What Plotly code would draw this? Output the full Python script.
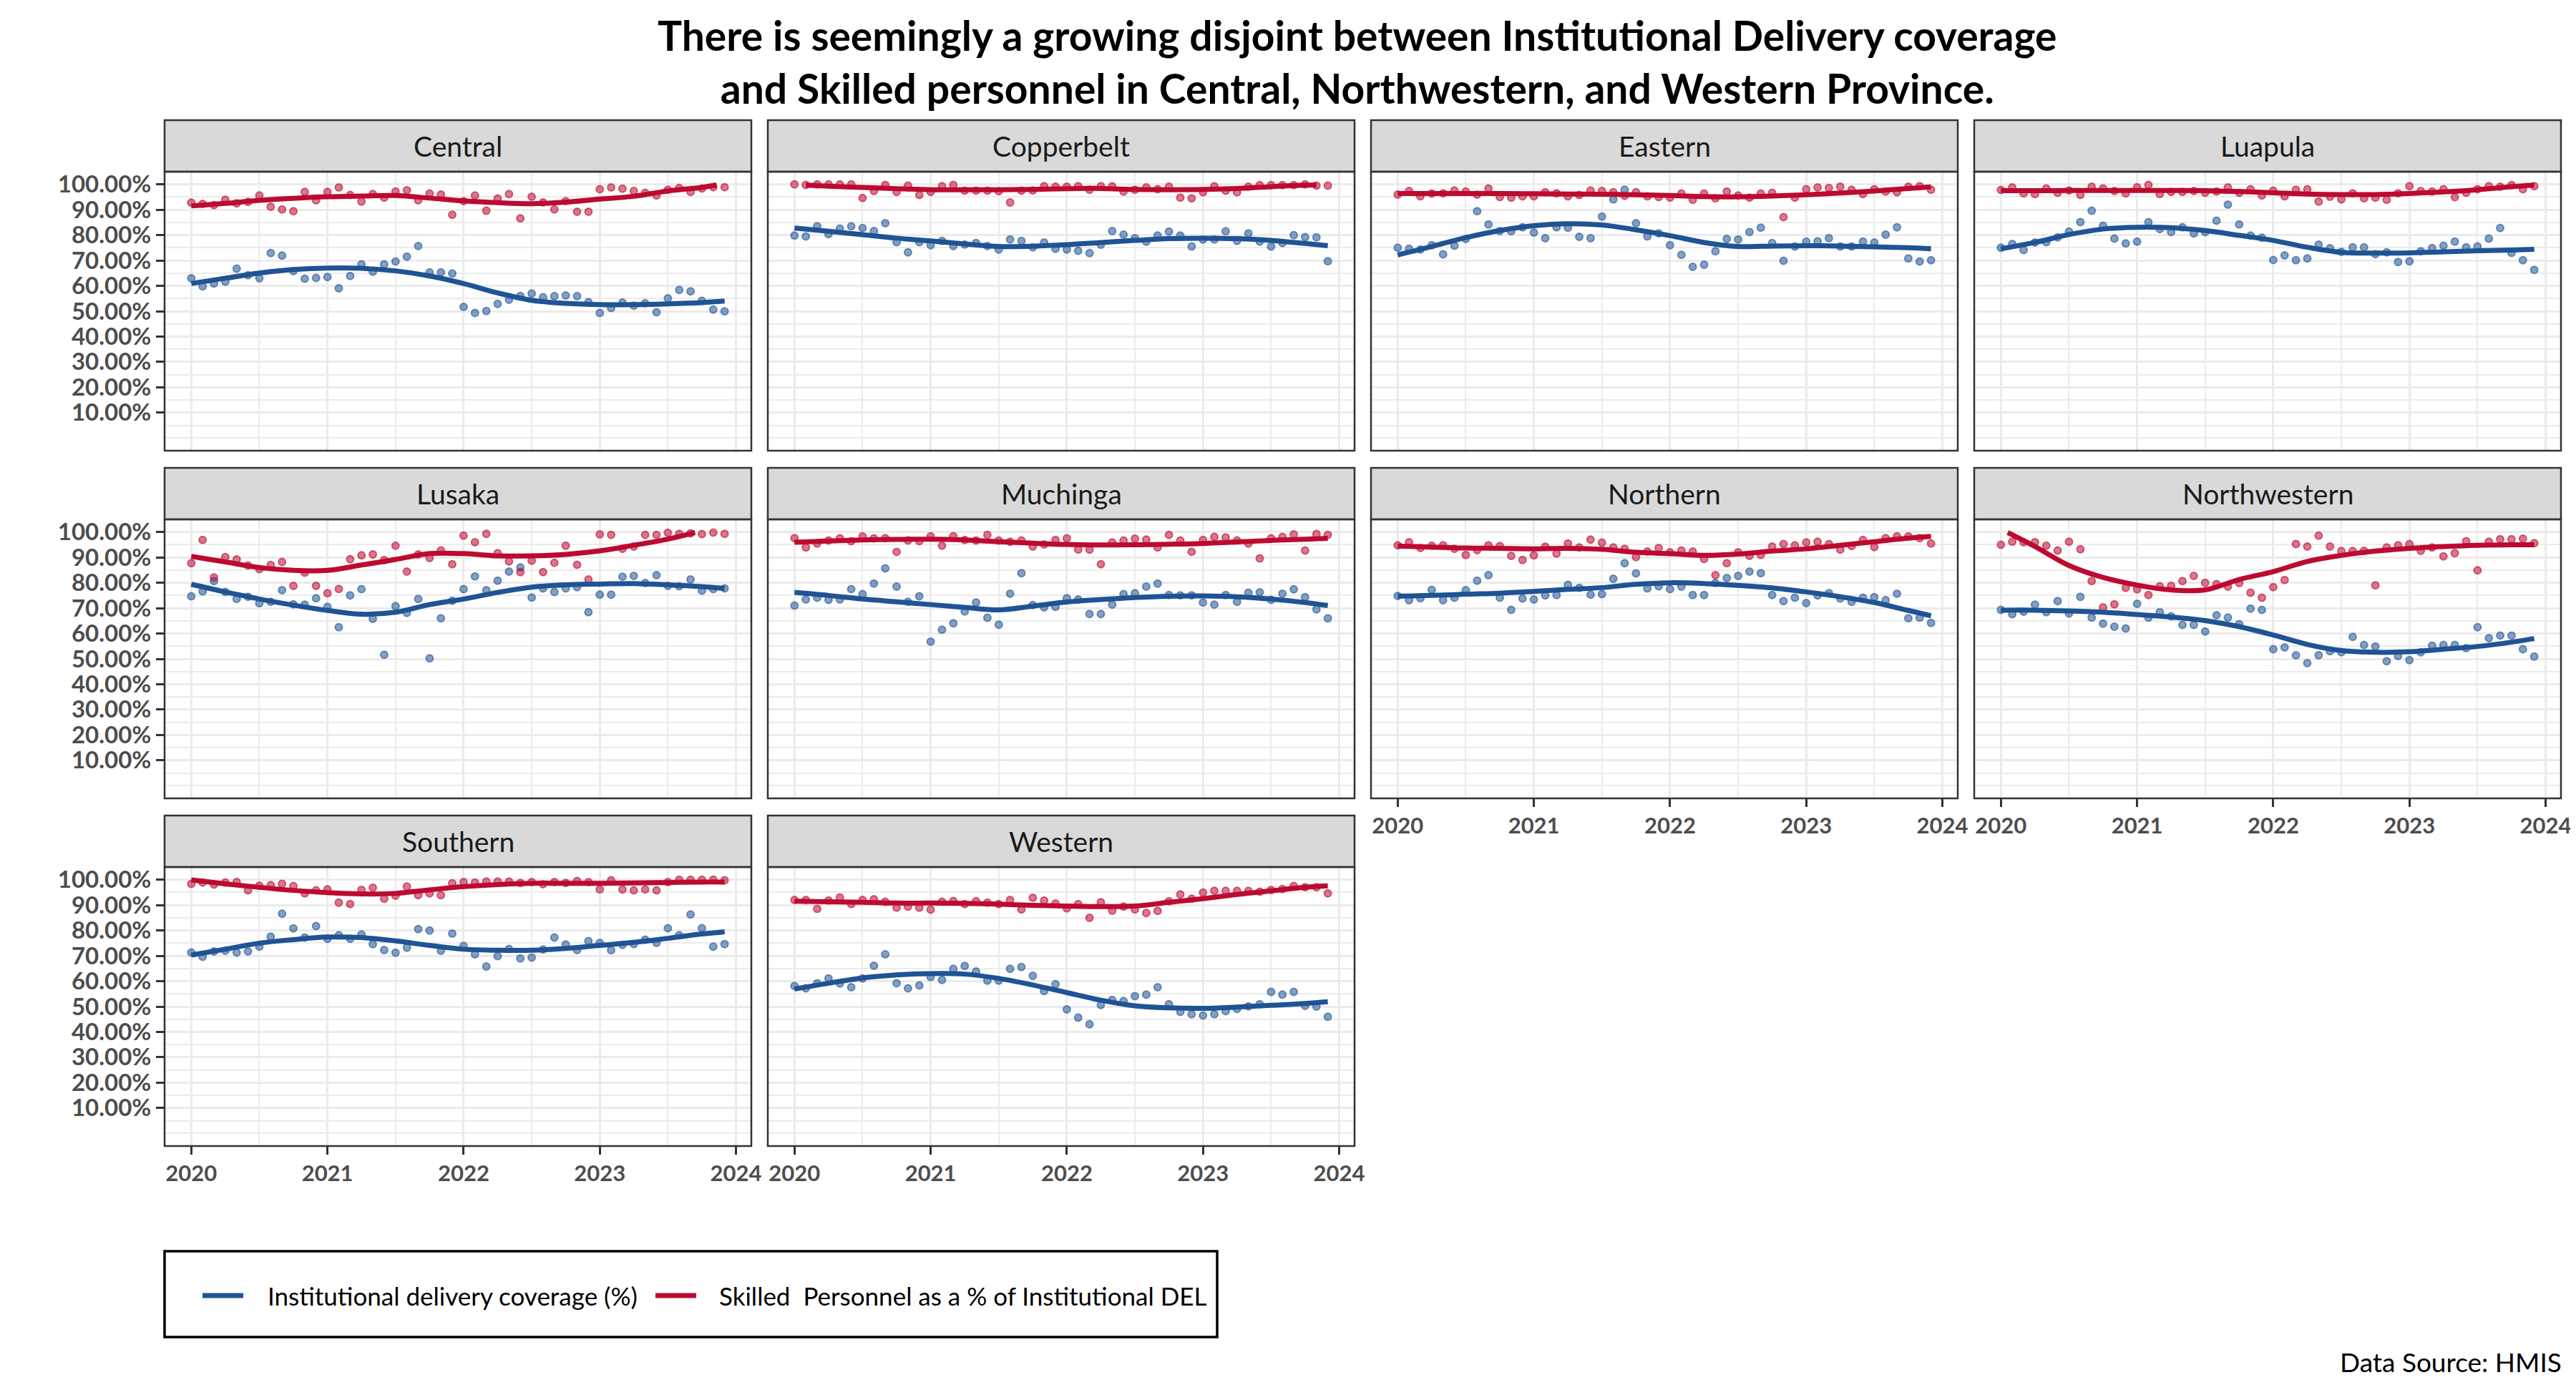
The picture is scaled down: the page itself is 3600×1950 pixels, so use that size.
import numpy as np
import pandas as pd
import plotly.graph_objects as go

# page body has an 8px margin, so the figure is drawn slightly smaller and
# every pixel position below is shifted by OFF
OFF = 8
W, H = 3600 - 2 * OFF, 1950 - 2 * OFF
FONT = "Lato"
BLUE = "#1F5394"
RED = "#BC0A31"

PROVINCES = ["Central", "Copperbelt", "Eastern", "Luapula", "Lusaka",
             "Muchinga", "Northern", "Northwestern", "Southern", "Western"]

MONTHS = pd.date_range("2020-01-01", "2023-12-01", freq="MS")

# Institutional delivery coverage (%), monthly Jan 2020 - Dec 2023
IDC = {
    "Central": [63.0, 59.8, 60.9, 61.6, 66.8, 64.2, 63.0, 72.9, 71.9, 65.8, 62.8, 63.1, 63.5, 59.0, 63.9, 68.5,
                65.6, 68.5, 69.6, 71.5, 75.7, 65.3, 65.3, 64.9, 51.7, 49.3, 50.1, 52.9, 54.5, 56.0, 57.0, 55.5,
                55.9, 56.2, 55.9, 53.6, 49.3, 51.3, 53.4, 52.2, 53.1, 49.6, 55.1, 58.4, 57.8, 54.1, 50.6, 49.9],
    "Copperbelt": [79.8, 79.5, 83.5, 80.4, 82.6, 83.5, 82.8, 81.6, 84.7, 77.2, 73.2, 77.2, 76.0, 77.7, 75.7, 76.3,
                   76.9, 75.7, 74.3, 78.3, 77.7, 75.2, 77.1, 74.6, 74.3, 73.8, 72.9, 76.2, 81.6, 80.2, 78.8, 77.4,
                   79.8, 81.4, 79.8, 75.5, 78.2, 78.3, 81.5, 77.7, 80.7, 77.4, 75.5, 76.9, 80.0, 79.2, 79.1, 69.7],
    "Eastern": [75.0, 74.6, 74.3, 76.0, 72.4, 75.8, 78.5, 89.4, 84.2, 81.6, 81.5, 83.1, 81.0, 78.8, 83.1, 82.9,
                79.3, 78.8, 87.3, 94.1, 97.9, 84.7, 79.5, 80.7, 76.0, 72.2, 67.5, 68.3, 73.6, 78.5, 78.3, 81.2,
                82.9, 76.9, 69.9, 75.5, 77.4, 77.6, 78.8, 75.5, 75.5, 77.4, 77.1, 80.2, 83.1, 70.8, 69.6, 70.1],
    "Luapula": [75.0, 76.5, 74.1, 77.1, 77.2, 79.1, 81.4, 85.1, 89.6, 83.7, 78.6, 76.7, 77.4, 85.1, 82.4, 81.2,
                83.1, 80.7, 81.2, 85.7, 92.0, 84.2, 79.8, 79.0, 70.2, 72.0, 70.1, 70.8, 76.2, 74.8, 73.4, 75.2,
                75.2, 72.5, 73.2, 69.4, 69.7, 73.6, 74.9, 75.8, 77.4, 75.2, 75.5, 78.6, 82.8, 73.0, 70.1, 66.3],
    "Lusaka": [74.7, 76.6, 80.7, 76.4, 73.6, 74.5, 71.9, 72.5, 77.1, 71.5, 71.4, 73.9, 70.5, 62.5, 75.0, 77.5,
               65.8, 51.6, 70.8, 68.1, 73.6, 50.2, 66.0, 72.9, 77.5, 82.5, 77.1, 80.8, 84.4, 86.0, 74.2, 77.8,
               76.4, 77.8, 78.3, 68.4, 75.3, 75.3, 82.4, 82.7, 79.9, 83.0, 78.8, 78.6, 81.3, 76.9, 77.5, 77.8],
    "Muchinga": [71.0, 73.4, 74.1, 73.3, 73.4, 77.5, 75.5, 79.7, 85.7, 78.5, 72.5, 74.7, 56.8, 61.5, 64.0, 68.7,
                 72.2, 66.2, 63.5, 75.7, 83.8, 71.2, 70.3, 70.5, 73.9, 73.4, 67.7, 67.7, 71.4, 75.5, 75.9, 78.5,
                 79.7, 75.2, 75.0, 75.0, 72.2, 71.4, 75.2, 72.5, 76.1, 76.2, 73.3, 75.7, 77.4, 74.3, 69.5, 66.0],
    "Northern": [74.8, 73.1, 73.9, 77.2, 73.1, 74.1, 77.1, 80.8, 83.0, 74.1, 69.3, 73.8, 73.4, 75.0, 75.2, 79.2,
                 78.0, 75.3, 75.5, 81.6, 87.7, 83.7, 77.8, 78.6, 77.5, 78.5, 75.2, 75.2, 79.9, 81.9, 82.7, 84.4,
                 83.8, 75.2, 72.8, 74.1, 72.0, 75.0, 75.9, 73.8, 72.5, 74.1, 74.3, 73.1, 75.7, 66.0, 66.3, 64.2],
    "Northwestern": [69.3, 67.6, 68.6, 71.4, 68.4, 72.8, 67.9, 74.5, 66.3, 63.9, 62.7, 62.0, 71.7, 66.2, 68.4, 66.8,
                     63.4, 63.4, 60.8, 67.2, 66.3, 63.7, 69.8, 69.3, 53.8, 54.5, 51.4, 48.3, 51.4, 53.0, 52.6, 58.7,
                     55.5, 54.9, 49.1, 51.1, 49.5, 52.6, 55.2, 55.5, 55.5, 54.2, 62.5, 58.2, 59.2, 59.2, 53.8, 50.9],
    "Southern": [71.3, 69.6, 71.7, 72.0, 71.3, 71.7, 73.6, 77.6, 86.6, 80.8, 77.2, 81.7, 76.7, 78.1, 76.7, 78.4,
                 74.6, 72.3, 71.2, 73.2, 80.5, 80.0, 72.0, 78.8, 73.9, 70.6, 65.8, 69.9, 72.7, 69.0, 69.3, 72.5,
                 77.2, 74.5, 72.3, 75.8, 75.1, 72.2, 74.3, 74.6, 76.4, 75.1, 80.9, 78.1, 86.3, 80.9, 73.6, 74.6],
    "Western": [58.1, 57.2, 59.2, 61.1, 59.1, 57.6, 61.1, 66.1, 70.6, 59.2, 57.2, 58.3, 61.6, 60.5, 64.9, 66.0,
                63.8, 60.2, 60.2, 64.9, 65.6, 62.1, 56.1, 58.8, 48.9, 45.6, 43.0, 50.6, 52.6, 52.2, 54.1, 54.7,
                57.6, 50.9, 47.9, 47.0, 46.5, 47.0, 48.2, 49.1, 50.1, 50.9, 55.8, 54.7, 55.8, 50.3, 50.0, 46.0],
}

# Skilled personnel as a % of institutional deliveries, monthly
SKILLED = {
    "Central": [92.8, 92.3, 91.8, 93.9, 92.5, 93.1, 95.6, 91.2, 90.1, 89.4, 97.0, 93.7, 97.0, 98.8, 95.8, 93.2,
                96.2, 94.8, 97.2, 97.7, 93.7, 96.4, 96.0, 88.0, 93.4, 95.6, 89.6, 94.4, 96.2, 86.6, 95.1, 92.9,
                90.1, 93.4, 89.2, 89.2, 98.1, 98.8, 98.3, 97.4, 96.7, 95.6, 97.9, 98.6, 97.0, 98.4, 98.9, 98.9],
    "Copperbelt": [100.0, 99.8, 100.0, 100.0, 100.0, 100.0, 94.6, 97.4, 99.8, 97.0, 99.5, 95.8, 97.0, 99.3, 99.8, 97.5,
                   97.5, 97.5, 97.3, 92.9, 97.5, 97.6, 99.3, 99.1, 99.1, 99.3, 97.9, 99.3, 99.2, 97.2, 97.9, 98.8,
                   98.1, 99.1, 94.8, 94.5, 96.9, 99.2, 97.5, 96.9, 99.1, 99.7, 99.7, 99.7, 99.7, 100.0, 99.5, 99.5],
    "Eastern": [96.0, 97.4, 95.3, 96.4, 96.5, 97.6, 97.2, 96.0, 98.4, 95.0, 94.8, 95.3, 95.3, 96.9, 96.5, 95.3,
                95.8, 97.6, 97.4, 96.9, 95.5, 96.9, 95.3, 95.0, 94.8, 96.4, 93.9, 96.4, 94.5, 97.2, 95.6, 94.8,
                96.4, 96.7, 87.1, 94.8, 98.1, 98.8, 98.6, 99.1, 97.9, 96.2, 98.1, 97.2, 96.9, 99.1, 99.3, 97.9],
    "Luapula": [97.8, 98.8, 96.5, 96.2, 98.4, 96.7, 97.6, 95.8, 99.1, 98.4, 97.4, 96.5, 98.9, 99.8, 96.2, 97.0,
                97.0, 97.4, 96.7, 97.2, 98.8, 96.7, 98.1, 95.6, 97.5, 95.3, 97.9, 98.1, 93.2, 95.1, 94.1, 96.5,
                94.5, 94.8, 93.9, 96.5, 99.3, 97.4, 97.2, 98.1, 95.0, 96.7, 98.1, 99.3, 99.1, 99.7, 98.1, 99.3],
    "Lusaka": [87.7, 96.9, 82.1, 90.1, 89.2, 86.8, 85.4, 87.0, 88.2, 78.8, 84.0, 78.8, 75.9, 77.6, 89.3, 90.8,
               91.2, 88.9, 94.6, 84.4, 91.2, 89.8, 92.7, 87.3, 98.6, 96.0, 99.3, 91.7, 88.4, 84.2, 88.7, 84.2,
               87.9, 94.6, 87.1, 81.3, 99.1, 98.9, 93.4, 94.3, 98.9, 98.9, 99.7, 99.3, 99.5, 99.2, 99.8, 99.3],
    "Muchinga": [97.6, 93.9, 95.5, 96.7, 97.5, 96.4, 98.3, 97.5, 97.6, 92.2, 96.7, 96.4, 98.3, 94.6, 98.4, 96.9,
                 96.7, 98.9, 96.7, 96.2, 96.7, 94.3, 95.1, 96.9, 97.5, 93.1, 93.1, 87.3, 95.9, 96.7, 97.4, 97.0,
                 93.9, 98.9, 96.7, 92.2, 96.9, 98.1, 97.9, 96.7, 95.5, 89.6, 97.5, 98.1, 99.1, 92.7, 99.2, 98.9],
    "Northern": [94.8, 96.0, 93.7, 94.6, 94.8, 93.4, 91.0, 92.9, 94.8, 94.5, 90.6, 89.0, 90.8, 94.2, 91.5, 95.5,
                 93.9, 97.0, 95.8, 93.9, 93.4, 90.1, 92.3, 93.7, 92.0, 92.7, 92.3, 89.4, 83.0, 87.7, 92.0, 90.6,
                 91.0, 94.3, 95.3, 94.8, 95.9, 96.2, 95.3, 93.1, 94.5, 96.9, 94.1, 97.6, 98.3, 98.3, 97.6, 95.5],
    "Northwestern": [95.0, 96.2, 96.0, 96.0, 94.6, 92.7, 96.2, 93.2, 80.7, 70.3, 71.5, 78.0, 77.4, 75.2, 78.6, 78.8,
                     80.7, 82.7, 80.0, 79.5, 78.5, 79.9, 76.1, 74.1, 78.3, 81.1, 95.3, 94.3, 98.6, 94.3, 92.5, 92.5,
                     92.6, 79.0, 93.9, 94.8, 95.3, 92.6, 93.9, 90.4, 91.7, 96.4, 84.9, 96.2, 97.2, 97.2, 97.4, 95.6],
    "Southern": [98.4, 98.9, 98.1, 98.9, 99.1, 95.8, 97.7, 97.9, 98.4, 97.5, 94.6, 95.8, 96.2, 91.0, 90.4, 96.0,
                 96.8, 92.5, 93.7, 97.3, 93.9, 94.6, 93.9, 98.6, 99.1, 98.9, 99.3, 99.3, 99.3, 98.7, 99.1, 98.2,
                 99.1, 98.7, 99.5, 99.1, 96.2, 99.8, 96.2, 95.8, 96.2, 95.8, 99.1, 100.0, 100.0, 100.0, 100.0, 99.8],
    "Western": [92.0, 92.0, 88.5, 91.8, 93.0, 90.4, 92.0, 92.3, 91.3, 89.0, 89.4, 89.0, 88.2, 91.3, 91.6, 90.4,
                91.5, 91.0, 90.4, 92.0, 88.3, 92.9, 91.8, 90.6, 88.7, 90.4, 85.0, 91.1, 87.8, 89.4, 88.3, 86.9,
                87.7, 91.5, 94.2, 92.5, 94.9, 95.6, 95.6, 95.6, 95.6, 95.3, 96.0, 96.3, 97.5, 97.0, 97.0, 94.6],
}

# smoothed trend, at these month indices (0 = Jan 2020)
FIT_MONTHS = [0, 3, 6, 9, 12, 15, 18, 21, 24, 27, 30, 33, 36, 39, 42, 45, 47]

IDC_FIT = {
    "Central": [60.9, 63.0, 65.0, 66.4, 67.0, 66.9, 65.9, 63.9, 60.9, 57.2, 54.3, 53.1, 52.6, 52.6, 52.9, 53.4, 54.0],
    "Copperbelt": [82.8, 81.5, 80.2, 78.8, 77.7, 76.5, 75.5, 75.6, 76.2, 77.1, 77.9, 78.6, 78.8, 78.6, 77.9, 76.7, 75.8],
    "Eastern": [72.2, 75.5, 79.0, 81.8, 83.7, 84.5, 84.0, 82.1, 79.8, 77.1, 75.5, 75.7, 75.8, 75.7, 75.4, 75.0, 74.6],
    "Luapula": [74.6, 77.1, 80.2, 82.4, 83.1, 82.9, 81.8, 79.9, 77.9, 75.2, 73.2, 72.9, 73.0, 73.4, 73.8, 74.1, 74.4],
    "Lusaka": [79.4, 76.4, 73.6, 71.2, 69.1, 67.6, 68.4, 71.4, 73.6, 76.2, 78.3, 79.2, 79.5, 79.7, 79.2, 78.5, 77.8],
    "Muchinga": [76.2, 75.0, 73.6, 72.5, 71.4, 70.3, 69.3, 70.8, 72.4, 73.4, 74.2, 74.7, 74.8, 74.5, 73.6, 72.2, 71.0],
    "Northern": [74.7, 75.0, 75.5, 75.9, 76.6, 77.4, 78.1, 79.4, 80.0, 79.7, 79.0, 78.0, 76.4, 74.5, 72.2, 69.1, 67.0],
    "Northwestern": [69.2, 69.2, 68.9, 68.4, 67.5, 66.5, 65.1, 62.7, 59.4, 55.7, 53.3, 52.6, 52.8, 53.8, 54.9, 56.6, 58.0],
    "Southern": [70.3, 72.6, 75.0, 76.4, 77.4, 77.2, 75.9, 74.1, 72.6, 72.2, 72.2, 72.9, 74.1, 75.3, 76.9, 78.6, 79.5],
    "Western": [56.9, 59.2, 61.3, 62.5, 63.0, 62.8, 61.1, 58.5, 55.5, 52.5, 50.3, 49.5, 49.3, 49.8, 50.5, 51.2, 51.9],
}

SKILLED_FIT = {
    "Central": [91.5, 92.5, 93.7, 94.5, 95.1, 95.4, 95.6, 94.6, 93.5, 92.8, 92.4, 93.0, 94.2, 95.3, 97.4, 98.8, 99.8],
    "Copperbelt": [99.7, 99.3, 98.8, 98.3, 97.9, 97.9, 97.9, 98.0, 98.3, 98.4, 98.0, 97.9, 98.0, 98.4, 99.1, 99.7, 99.8],
    "Eastern": [96.4, 96.4, 96.4, 96.4, 96.3, 96.2, 96.1, 95.9, 95.6, 95.2, 95.1, 95.4, 95.9, 96.6, 97.4, 98.4, 99.0],
    "Luapula": [97.5, 97.5, 97.6, 97.6, 97.6, 97.6, 97.5, 97.2, 96.7, 96.2, 96.0, 96.0, 96.4, 97.0, 97.9, 99.1, 99.7],
    "Lusaka": [90.4, 88.2, 86.0, 84.9, 84.9, 87.0, 89.2, 91.5, 91.5, 90.6, 90.6, 91.2, 92.6, 94.8, 97.2, 99.8],
    "Muchinga": [96.0, 96.5, 96.9, 97.1, 97.2, 96.9, 96.2, 95.6, 95.1, 94.9, 95.0, 95.2, 95.5, 96.1, 96.7, 97.2, 97.5],
    "Northern": [94.5, 94.1, 93.7, 93.6, 93.4, 93.6, 93.2, 92.0, 91.5, 90.8, 91.3, 92.5, 93.4, 94.8, 96.2, 97.6, 98.3],
    "Northwestern": [99.8, 94.3, 86.8, 82.1, 79.1, 77.2, 77.2, 81.3, 84.4, 88.4, 90.8, 92.5, 93.6, 94.3, 94.8, 95.0, 95.0],
    "Southern": [99.9, 98.4, 97.0, 95.8, 94.9, 94.4, 94.6, 96.0, 97.3, 98.1, 98.6, 98.6, 98.6, 98.7, 98.9, 99.1, 99.1],
    "Western": [91.5, 91.3, 91.1, 90.8, 90.8, 90.7, 90.4, 89.9, 89.6, 89.4, 89.6, 91.1, 92.5, 94.2, 95.6, 97.0, 97.6],
}

# trend lines that run past 100% are cut where they leave the scale
SKILLED_FIT_MONTHS = {
    "Central": FIT_MONTHS[:-2] + [45, 46.3],
    "Copperbelt": [1] + FIT_MONTHS[1:-1] + [46],
    "Lusaka": FIT_MONTHS[:-2] + [44.4],
    "Northwestern": [0.6] + FIT_MONTHS[1:],
}

Y_TICKS = [0.1, 0.2, 0.3, 0.4, 0.5, 0.6, 0.7, 0.8, 0.9, 1.0]
X_TICKS = [2020, 2021, 2022, 2023, 2024]

TITLE = ("There is seemingly a growing disjoint between Institutional Delivery coverage<br>"
         "and Skilled personnel in Central, Northwestern, and Western Province.")
IDC_LABEL = "Institutional delivery coverage (%)"
SKILLED_LABEL = "Skilled  Personnel as a % of Institutional DEL"


def to_year(m):
    return 2020 + np.asarray(m, dtype=float) / 12


def rgba(hex_color, a):
    h = hex_color.lstrip("#")
    return f"rgba({int(h[0:2], 16)},{int(h[2:4], 16)},{int(h[4:6], 16)},{a})"


def px(x):
    return (x - OFF) / W


def py(y):
    return 1 - (y - OFF) / H


month_x = MONTHS.year + (MONTHS.month - 1) / 12

# panel geometry in page pixels
LEFT, PANEL_W, COL_STEP = 230, 820, 843
TOP, STRIP_H, PANEL_H, ROW_STEP = 168, 72, 390, 486
NCOL = 4
X_RANGE = [2019.804, 2024.113]
Y_RANGE = [-0.05, 1.05]

fig = go.Figure()
shapes = []
annotations = []
layout_axes = {}

n = len(PROVINCES)
for i, prov in enumerate(PROVINCES):
    r, c = divmod(i, NCOL)
    k = i + 1
    x0 = LEFT + c * COL_STEP
    x1 = x0 + PANEL_W
    st = TOP + r * ROW_STEP
    pt = st + STRIP_H
    pb = pt + PANEL_H
    bottom = (i + NCOL) >= n  # nothing below this panel
    first_col = c == 0

    xa = "x" if k == 1 else f"x{k}"
    ya = "y" if k == 1 else f"y{k}"

    fig.add_trace(go.Scatter(
        x=month_x, y=np.array(IDC[prov]) / 100, mode="markers", xaxis=xa, yaxis=ya,
        marker=dict(size=10, color=rgba(BLUE, 0.55), line=dict(width=2, color=rgba(BLUE, 0.6))),
        showlegend=False, hoverinfo="skip"))
    fig.add_trace(go.Scatter(
        x=month_x, y=np.array(SKILLED[prov]) / 100, mode="markers", xaxis=xa, yaxis=ya,
        marker=dict(size=10, color=rgba(RED, 0.55), line=dict(width=2, color=rgba(RED, 0.6))),
        showlegend=False, hoverinfo="skip"))
    fig.add_trace(go.Scatter(
        x=to_year(FIT_MONTHS), y=np.array(IDC_FIT[prov]) / 100, mode="lines", xaxis=xa, yaxis=ya,
        line=dict(color=BLUE, width=7, shape="spline", smoothing=1.0),
        name=IDC_LABEL, showlegend=False, hoverinfo="skip"))
    fig.add_trace(go.Scatter(
        x=to_year(SKILLED_FIT_MONTHS.get(prov, FIT_MONTHS)), y=np.array(SKILLED_FIT[prov]) / 100,
        mode="lines", xaxis=xa, yaxis=ya,
        line=dict(color=RED, width=7, shape="spline", smoothing=1.0),
        name=SKILLED_LABEL, showlegend=False, hoverinfo="skip"))

    tick_font = dict(family=FONT, size=33, color="#4d4d4d", weight="bold")
    layout_axes["xaxis" if k == 1 else f"xaxis{k}"] = dict(
        domain=[px(x0), px(x1)], anchor=ya, range=X_RANGE,
        tickmode="array", tickvals=X_TICKS, ticktext=[str(v) for v in X_TICKS],
        showticklabels=bottom, ticks="outside" if bottom else "",
        ticklen=11, tickwidth=3, tickcolor="#333333",
        tickfont=dict(family=FONT, size=31, color="#4d4d4d", weight="bold"),
        ticklabeloverflow="allow",
        showgrid=True, gridcolor="#ebebeb", gridwidth=3,
        minor=dict(tick0=2020, dtick=0.5, showgrid=True, gridcolor="#ebebeb", gridwidth=1.5),
        zeroline=False, showline=False, automargin=False, fixedrange=True)
    layout_axes["yaxis" if k == 1 else f"yaxis{k}"] = dict(
        domain=[py(pb), py(pt)], anchor=xa, range=Y_RANGE,
        tickmode="array", tickvals=Y_TICKS, tickformat=".2%",
        showticklabels=first_col, ticks="outside" if first_col else "",
        ticklen=11, tickwidth=3, tickcolor="#333333", tickfont=tick_font,
        showgrid=True, gridcolor="#ebebeb", gridwidth=3,
        minor=dict(tick0=0, dtick=0.05, showgrid=True, gridcolor="#ebebeb", gridwidth=1.5),
        zeroline=False, showline=False, automargin=False, fixedrange=True)

    # strip
    shapes.append(dict(type="rect", xref="paper", yref="paper",
                       x0=px(x0), x1=px(x1), y0=py(pt), y1=py(st),
                       fillcolor="#d9d9d9", line=dict(color="#333333", width=2.5), layer="above"))
    # panel border
    shapes.append(dict(type="rect", xref="paper", yref="paper",
                       x0=px(x0), x1=px(x1), y0=py(pb), y1=py(pt),
                       fillcolor="rgba(0,0,0,0)", line=dict(color="#333333", width=2.5), layer="above"))
    annotations.append(dict(text=prov, xref="paper", yref="paper",
                            x=px((x0 + x1) / 2), y=py(st + STRIP_H / 2),
                            xanchor="center", yanchor="middle", showarrow=False,
                            font=dict(family=FONT, size=39, color="#1a1a1a")))

# title
annotations.append(dict(text=TITLE, xref="paper", yref="paper", x=px(1897), y=py(13),
                        xanchor="center", yanchor="top", showarrow=False, align="center",
                        font=dict(family=FONT, size=57, color="black", weight="bold")))

# legend box
LEG_X0, LEG_X1, LEG_Y0, LEG_Y1, LEG_YC = 230, 1701, 1749, 1869, 1811
shapes.append(dict(type="rect", xref="paper", yref="paper",
                   x0=px(LEG_X0), x1=px(LEG_X1), y0=py(LEG_Y1), y1=py(LEG_Y0),
                   fillcolor="white", line=dict(color="black", width=3.5)))
for color, lx0, tx, label in [(BLUE, 283, 372, IDC_LABEL), (RED, 916, 1003, SKILLED_LABEL)]:
    shapes.append(dict(type="line", xref="paper", yref="paper",
                       x0=px(lx0), x1=px(lx0 + 57), y0=py(LEG_YC), y1=py(LEG_YC),
                       line=dict(color=color, width=7)))
    annotations.append(dict(text=label, xref="paper", yref="paper", x=px(tx), y=py(LEG_YC),
                            xanchor="left", yanchor="middle", showarrow=False,
                            font=dict(family=FONT, size=35, color="black")))

annotations.append(dict(text="Data Source: HMIS", xref="paper", yref="paper", x=px(3582), y=py(1903),
                        xanchor="right", yanchor="middle", showarrow=False,
                        font=dict(family=FONT, size=37, color="black")))

fig.update_layout(
    width=W, height=H,
    margin=dict(l=0, r=0, t=0, b=0),
    paper_bgcolor="white", plot_bgcolor="white",
    showlegend=False,
    shapes=shapes, annotations=annotations,
    **layout_axes,
)

fig.write_html("out.html")
